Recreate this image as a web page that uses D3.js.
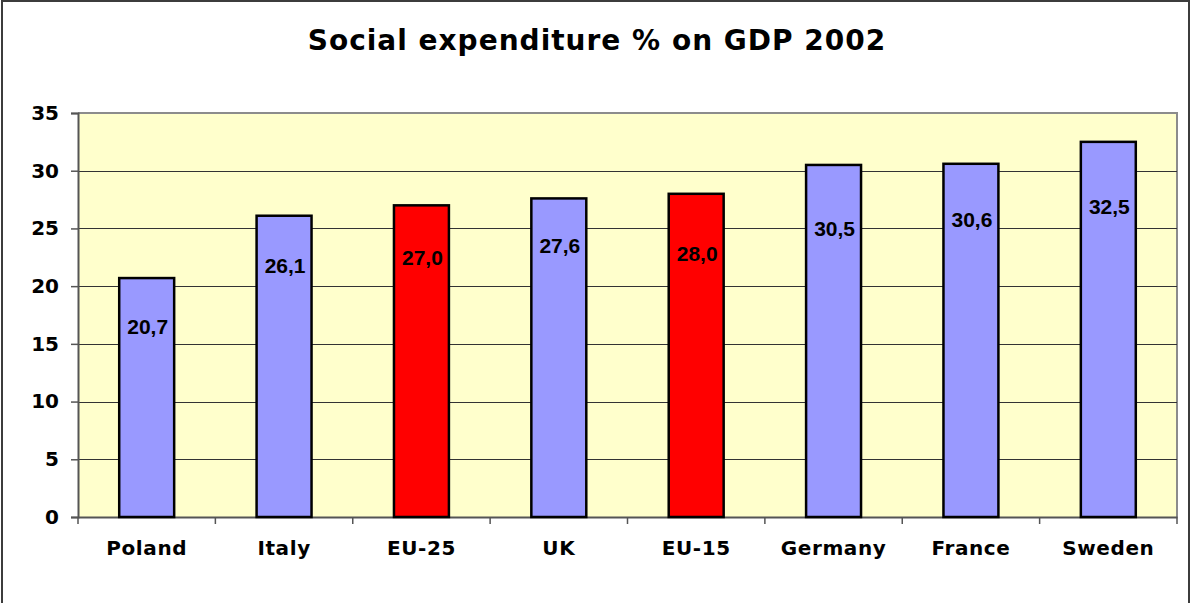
<!DOCTYPE html>
<html>
<head>
<meta charset="utf-8">
<script src="https://cdn.jsdelivr.net/npm/d3@7"></script>
<style>
  body { margin: 0; background: #fff; }
  svg { display: block; }
</style>
</head>
<body>
<script>
// data
let countries = ["Poland", "Italy", "EU-25", "UK", "EU-15", "Germany", "France", "Sweden"];
let values = [20.7, 26.1, 27.0, 27.6, 28.0, 30.5, 30.6, 32.5];
let highlighted = ["EU-25", "EU-15"];
// where each value label sits, in axis units (labels are not at a fixed spot in the original)
let labelAt = [16.5, 21.8, 22.5, 23.5, 22.8, 25.0, 25.8, 26.9];
let yTicks = [0, 5, 10, 15, 20, 25, 30, 35];

let svgWidth = 1192,
    svgHeight = 603,
    plot = { left: 78, top: 113, right: 1177, bottom: 517 };

let svg = d3.select("body").append("svg")
    .attr("width", svgWidth)
    .attr("height", svgHeight);

// outer chart frame
svg.append("rect")
    .attr("x", 2).attr("y", 1)
    .attr("width", 1187).attr("height", 620)
    .attr("fill", "#fff")
    .attr("stroke", "#3c3c3c")
    .attr("stroke-width", 2);

svg.append("text")
    .attr("x", 597).attr("y", 50)
    .attr("text-anchor", "middle")
    .style("font-family", "DejaVu Sans")
    .style("font-weight", "bold")
    .style("font-size", "28px")
    .style("letter-spacing", "1px")
    .text("Social expenditure % on GDP 2002");

let xScale = d3.scaleBand().domain(countries).range([plot.left, plot.right]);
let yScale = d3.scaleLinear().domain([0, 35]).range([plot.bottom, plot.top]);

// plot background
svg.append("rect")
    .attr("x", plot.left).attr("y", plot.top)
    .attr("width", plot.right - plot.left).attr("height", plot.bottom - plot.top)
    .attr("fill", "#ffffcc");

// top and right border of the plot area
svg.append("path")
    .attr("d", "M" + plot.left + "," + plot.top + "H" + plot.right + "V" + plot.bottom)
    .attr("fill", "none")
    .attr("stroke", "#8c8c8c")
    .attr("stroke-width", 2);

// gridlines
svg.append("g")
    .selectAll("line")
    .data(yTicks.filter(t => t > 0 && t < 35))
    .join("line")
    .attr("x1", plot.left).attr("x2", plot.right)
    .attr("y1", d => Math.round(yScale(d)) + 0.5)
    .attr("y2", d => Math.round(yScale(d)) + 0.5)
    .attr("stroke", "#333")
    .attr("stroke-width", 1);

// y axis
let yAxis = d3.axisLeft(yScale).tickValues(yTicks).tickSize(7).tickPadding(12);
let gy = svg.append("g")
    .attr("transform", "translate(" + plot.left + ",0)")
    .call(yAxis);
gy.select(".domain").attr("stroke", "#555").attr("stroke-width", 2);
gy.selectAll(".tick line").attr("stroke", "#555").attr("stroke-width", 1.5);
gy.selectAll(".tick text")
    .style("font-family", "DejaVu Sans")
    .style("font-weight", "bold")
    .style("font-size", "20px")
    .attr("fill", "#000");

// x axis with ticks between categories
let step = xScale.step();
let xAxis = d3.axisBottom(xScale).tickSize(0).tickPadding(24);
let gx = svg.append("g")
    .attr("transform", "translate(0," + plot.bottom + ")")
    .call(xAxis);
gx.select(".domain").attr("stroke", "#555").attr("stroke-width", 2);
gx.selectAll(".tick text")
    .style("font-family", "DejaVu Sans")
    .style("font-weight", "bold")
    .style("font-size", "20px")
    .style("letter-spacing", "0.6px")
    .attr("fill", "#000");
gx.selectAll(".sep")
    .data(d3.range(countries.length + 1))
    .join("line")
    .attr("class", "sep")
    .attr("x1", i => plot.left + i * step)
    .attr("x2", i => plot.left + i * step)
    .attr("y1", 0).attr("y2", 7)
    .attr("stroke", "#555")
    .attr("stroke-width", 1.5);

// bars
let barW = step * 0.4;
svg.append("g")
    .selectAll("rect")
    .data(countries)
    .join("rect")
    .attr("x", (d) => xScale(d) + (step - barW) / 2)
    .attr("y", (d, i) => yScale(values[i]))
    .attr("width", barW)
    .attr("height", (d, i) => plot.bottom - yScale(values[i]))
    .attr("fill", d => highlighted.includes(d) ? "#ff0000" : "#9999ff")
    .attr("stroke", "#000")
    .attr("stroke-width", 2.5);

// value labels
svg.append("g")
    .selectAll("text")
    .data(countries)
    .join("text")
    .attr("x", d => xScale(d) + step / 2 + 1)
    .attr("y", (d, i) => yScale(labelAt[i]))
    .attr("dy", "0.36em")
    .attr("text-anchor", "middle")
    .style("font-family", "Liberation Sans")
    .style("font-weight", "bold")
    .style("font-size", "21px")
    .text((d, i) => values[i].toFixed(1).replace(".", ","));
</script>
</body>
</html>
